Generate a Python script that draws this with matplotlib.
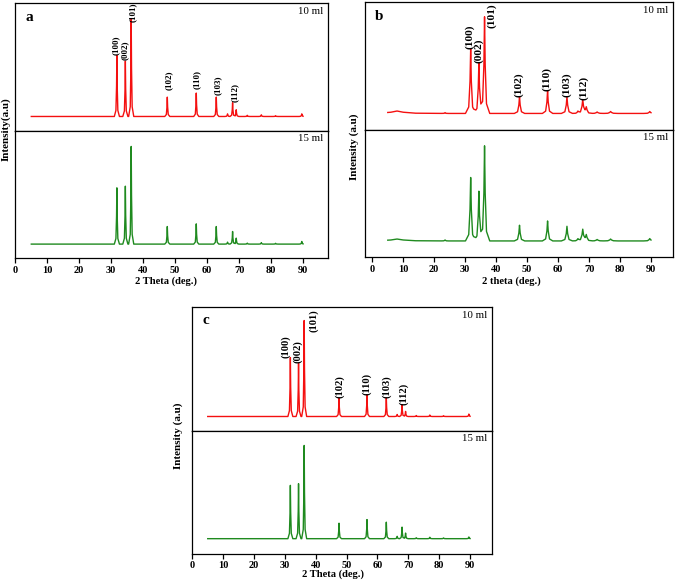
import numpy as np
import matplotlib
matplotlib.use("Agg")
import matplotlib.pyplot as plt
from matplotlib.transforms import blended_transform_factory

plt.rcParams['font.family'] = ['Liberation Serif', 'DejaVu Serif']

W, H = 677, 586
HKL = ['(100)', '(002)', '(101)', '(102)', '(110)', '(103)', '(112)']
TICKS = list(range(0, 100, 10))

# peak positions (2 theta, deg) and relative intensities
A_POS = [31.77, 34.42, 36.25, 47.54, 56.60, 62.86, 66.38, 67.96, 69.10, 72.56, 76.95, 81.40, 89.60]
A_10ML = [62.9, 57.0, 100, 19.9, 24.1, 19.9, 2.7, 14.1, 6.9, 1.2, 1.7, 0.8, 2.7]
A_15ML = [57.6, 59.3, 100, 18.0, 20.7, 18.0, 2.0, 12.9, 6.1, 1.0, 1.5, 0.8, 2.7]
A_WID = 0.2

B_POS = [8.0, 23.5, 31.77, 34.42, 36.25, 47.54, 56.60, 62.86, 66.40, 67.96, 69.10, 72.60, 76.95, 89.60]
B_10ML = [2.5, 0.8, 66.7, 52.1, 100, 17.4, 23.6, 17.4, 2.0, 13.9, 6.0, 1.5, 2.0, 2.0]
B_15ML = [2.0, 1.0, 66.7, 52.3, 100, 16.5, 21.0, 15.4, 2.0, 11.9, 6.0, 1.5, 2.0, 2.5]
B_WID = [4.0, 0.3, 0.42, 0.42, 0.42, 0.42, 0.42, 0.45, 0.5, 0.5, 0.5, 0.6, 0.6, 0.5]

C_POS = [31.77, 34.42, 36.25, 47.54, 56.60, 62.86, 66.38, 67.96, 69.10, 72.56, 76.95, 81.40, 89.60]
C_10ML = [61.4, 55.4, 100, 19.3, 22.8, 19.3, 2.1, 12.3, 5.3, 1.0, 1.5, 0.8, 2.5]
C_15ML = [57.2, 59.0, 100, 16.6, 20.5, 17.7, 2.5, 12.4, 6.0, 1.0, 1.5, 0.8, 1.8]
C_WID = 0.2

# hkl label anchors: x in 2 theta, y as fraction of the upper sub-axes
A_LAB_X = [31.5, 34.4, 36.9, 47.9, 56.8, 63.2, 68.8]
A_LAB_Y = [0.589, 0.550, 0.850, 0.314, 0.327, 0.275, 0.223]
B_LAB_X = [31.3, 34.5, 38.5, 47.3, 56.4, 62.9, 68.3]
B_LAB_Y = [0.632, 0.521, 0.797, 0.258, 0.305, 0.258, 0.232]
C_LAB_X = [30.3, 34.1, 39.2, 47.6, 56.5, 63.0, 68.4]
C_LAB_Y = [0.592, 0.552, 0.796, 0.266, 0.293, 0.266, 0.212]

RED, GREEN = '#f41010', '#1f8a1f'

# simple piecewise peak shape (offsets in widths, fraction of height)
DX = np.array([-4, -1.5, -0.5, 0, 0.5, 1.5, 4])
FR = np.array([0, 0.1, 0.5, 1, 0.5, 0.1, 0])


def pattern(pos, hts, wid):
    wid = np.broadcast_to(np.asarray(wid, float), (len(pos),))
    xs = np.unique(np.concatenate([[5.0, 90.0]] + [p + DX * w for p, w in zip(pos, wid)]))
    xs = xs[(xs >= 5) & (xs <= 90)]
    ys = sum(np.interp(xs, p + DX * w, h * FR, left=0, right=0) for p, h, w in zip(pos, hts, wid))
    return xs, ys


def ylims(fb, ft):
    return (-fb / (ft - fb) * 100, (1 - fb) / (ft - fb) * 100)


fig = plt.figure(figsize=(W / 100, H / 100), dpi=100)


def panel(box, xlim, letter, series, fracs, labx, laby, labsize, xlabel, ylabel, xlab_pos, ylab_pos):
    l, t, r, b, d = box
    axt = fig.add_axes([l / W, 1 - d / H, (r - l) / W, (d - t) / H])
    axb = fig.add_axes([l / W, 1 - b / H, (r - l) / W, (b - d) / H])
    for ax, (x, y), col, fr, name in zip([axt, axb], series, [RED, GREEN], fracs, ['10 ml', '15 ml']):
        ax.plot(x, y, color=col, lw=1.0)
        ax.set_xlim(*xlim)
        ax.set_ylim(*ylims(*fr))
        ax.set_yticks([])
        for s in ax.spines.values():
            s.set_linewidth(0.9)
        ax.text(0.985, 0.935, name, transform=ax.transAxes, ha='right', va='center', fontsize=7.8)
    axt.set_xticks([])
    axb.set_xticks(TICKS)
    axb.tick_params(axis='x', direction='out', length=3.5, width=0.9, labelsize=7.5, pad=2)
    for lab in axb.get_xticklabels():
        lab.set_fontweight('bold')
    tr = blended_transform_factory(axt.transData, axt.transAxes)
    for s, x, y in zip(HKL, labx, laby):
        axt.text(x, y, s, transform=tr, rotation=90, ha='center', va='bottom',
                 fontsize=labsize, fontweight='bold', clip_on=False)
    axt.text(0.045, 0.89, letter, transform=axt.transAxes, fontsize=11, fontweight='bold',
             ha='center', va='center')
    fig.text(xlab_pos[0] / W, 1 - xlab_pos[1] / H, xlabel, ha='center', va='center',
             fontsize=7.6, fontweight='bold')
    fig.text(ylab_pos[0] / W, 1 - ylab_pos[1] / H, ylabel, ha='center', va='center',
             rotation=90, fontsize=8, fontweight='bold')


panel((15.3, 3, 328, 258, 130.5), (0, 97.8), 'a',
      [pattern(A_POS, A_10ML, A_WID), pattern(A_POS, A_15ML, A_WID)],
      [(0.11, 0.872), (0.109, 0.875)], A_LAB_X, A_LAB_Y, 6.5,
      '2 Theta (deg.)', 'Intensity(a.u)', (166, 281), (6, 129))

panel((365, 2, 673, 257, 129.5), (-2.35, 97.1), 'b',
      [pattern(B_POS, B_10ML, B_WID), pattern(B_POS, B_15ML, B_WID)],
      [(0.126, 0.884), (0.126, 0.872)], B_LAB_X, B_LAB_Y, 8.2,
      '2 theta (deg.)', 'Intensity (a.u)', (511, 281), (354, 147))

panel((192.3, 307, 492, 553.5, 431), (0, 97.1), 'c',
      [pattern(C_POS, C_10ML, C_WID), pattern(C_POS, C_15ML, C_WID)],
      [(0.117, 0.891), (0.121, 0.882)], C_LAB_X, C_LAB_Y, 7.6,
      '2 Theta (deg.)', 'Intensity (a.u)', (333, 574), (178, 436))

fig.savefig('out.png', dpi=100)
